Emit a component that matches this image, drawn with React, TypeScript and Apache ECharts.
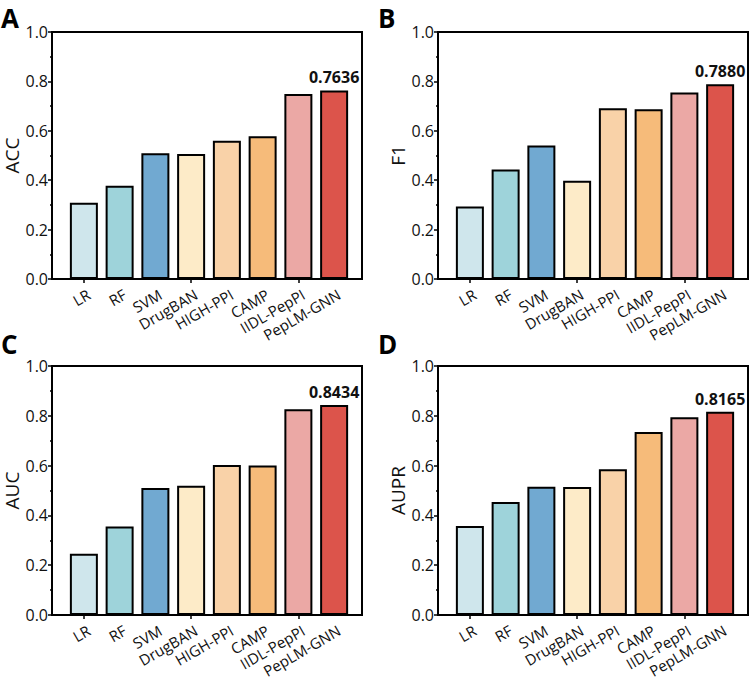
import React, { useEffect, useRef } from "react";
import * as echarts from "echarts";

// Models compared in every panel
const categories = ["LR", "RF", "SVM", "DrugBAN", "HIGH-PPI", "CAMP", "IIDL-PepPI", "PepLM-GNN"];

// Metric values per model
const accValues = [0.309, 0.378, 0.509, 0.506, 0.56, 0.578, 0.749, 0.7636];
const f1Values = [0.294, 0.443, 0.54, 0.398, 0.691, 0.687, 0.755, 0.788];
const aucValues = [0.246, 0.355, 0.51, 0.519, 0.602, 0.6, 0.826, 0.8434];
const auprValues = [0.357, 0.454, 0.515, 0.514, 0.585, 0.735, 0.794, 0.8165];

const barColors = ["#cfe6ec", "#9ed3da", "#71a9d1", "#fdebc8", "#f9d2a8", "#f6bb7a", "#eba8a5", "#dc544b"];

const yTicks = [0, 0.2, 0.4, 0.6, 0.8, 1.0];

const FONT = "Open Sans";

type Panel = {
  letter: string;
  name: string;
  values: number[];
  left: number;
  top: number;
  height: number;
  letterX: number;
  letterY: number;
};

const panels: Panel[] = [
  { letter: "A", name: "ACC", values: accValues, left: 52, top: 32, height: 247, letterX: 1, letterY: 5 },
  { letter: "B", name: "F1", values: f1Values, left: 438, top: 32, height: 247, letterX: 378, letterY: 5 },
  { letter: "C", name: "AUC", values: aucValues, left: 52, top: 366, height: 249, letterX: 1, letterY: 331 },
  { letter: "D", name: "AUPR", values: auprValues, left: 438, top: 366, height: 249, letterX: 378, letterY: 331 },
];

const FRAME_W = 310;
const INNER_OFFSET = 14;
const INNER_W = 286;
const LABEL_SHIFT = 5;

function buildOption() {
  const grids: any[] = [];
  const xAxes: any[] = [];
  const yAxes: any[] = [];
  const series: any[] = [];
  const graphics: any[] = [];

  panels.forEach((p) => {
    const outer = grids.length;
    const inner = outer + 1;
    const labels = outer + 2;

    // framed box carrying the y axis
    grids.push({
      left: p.left,
      top: p.top,
      width: FRAME_W,
      height: p.height,
      show: true,
      borderColor: "#000",
      borderWidth: 2,
      backgroundColor: "transparent",
      z: 3,
    });
    // inner area holding the bars and category ticks
    grids.push({ left: p.left + INNER_OFFSET, top: p.top, width: INNER_W, height: p.height });
    // category names, nudged right of their ticks
    grids.push({ left: p.left + INNER_OFFSET + LABEL_SHIFT, top: p.top, width: INNER_W, height: p.height });

    xAxes.push({ type: "value", gridIndex: outer, show: false, min: 0, max: 1 });
    xAxes.push({
      type: "category",
      gridIndex: inner,
      data: categories,
      axisLine: { show: false },
      axisTick: {
        show: true,
        alignWithLabel: true,
        length: 4,
        lineStyle: { color: "#000", width: 1.5 },
      },
      axisLabel: { show: false },
    });
    xAxes.push({
      type: "category",
      gridIndex: labels,
      data: categories,
      axisLine: { show: false },
      axisTick: { show: false },
      axisLabel: {
        rotate: 30,
        interval: 0,
        fontSize: 15,
        fontFamily: FONT,
        color: "#111",
        margin: 14,
      },
    });

    yAxes.push({
      type: "value",
      gridIndex: outer,
      min: yTicks[0],
      max: yTicks[yTicks.length - 1],
      interval: 0.2,
      name: p.name,
      nameLocation: "middle",
      nameGap: 31,
      nameTextStyle: { fontSize: 19, fontFamily: FONT, color: "#111" },
      axisLine: { show: false },
      axisTick: { show: true, length: 4, lineStyle: { color: "#000", width: 1.5 } },
      minorTick: { show: true, splitNumber: 2, length: 2, lineStyle: { color: "#000", width: 1.5 } },
      splitLine: { show: false },
      axisLabel: {
        fontSize: 16,
        fontFamily: FONT,
        color: "#111",
        margin: 4,
        formatter: (v: number) => v.toFixed(1),
      },
    });
    yAxes.push({ type: "value", gridIndex: inner, min: 0, max: 1, show: false });
    yAxes.push({ type: "value", gridIndex: labels, min: 0, max: 1, show: false });

    series.push({
      type: "bar",
      xAxisIndex: inner,
      yAxisIndex: inner,
      barWidth: 28,
      data: p.values.map((v, k) => ({
        value: v,
        itemStyle: { color: barColors[k], borderColor: "#000", borderWidth: 2 },
        label:
          k === p.values.length - 1
            ? {
                show: true,
                position: "top",
                distance: 5,
                formatter: v.toFixed(4),
                fontSize: 16,
                fontWeight: "bold",
                fontFamily: FONT,
                color: "#111",
              }
            : { show: false },
      })),
    });

    graphics.push({
      type: "text",
      left: p.letterX,
      top: p.letterY,
      style: {
        text: p.letter,
        fontSize: 26,
        fontWeight: "bold",
        fontFamily: FONT,
        fill: "#000",
      },
    });
  });

  return {
    animation: false,
    backgroundColor: "#fff",
    grid: grids,
    xAxis: xAxes,
    yAxis: yAxes,
    series,
    graphic: graphics,
  };
}

export default function App() {
  const ref = useRef<HTMLDivElement>(null);
  useEffect(() => {
    if (!ref.current) return;
    const chart = echarts.init(ref.current, undefined, { renderer: "svg" });
    chart.setOption(buildOption());
    return () => chart.dispose();
  }, []);
  return (
    <div
      ref={ref}
      style={{ position: "absolute", left: 0, top: 0, width: 752, height: 684 }}
    />
  );
}
